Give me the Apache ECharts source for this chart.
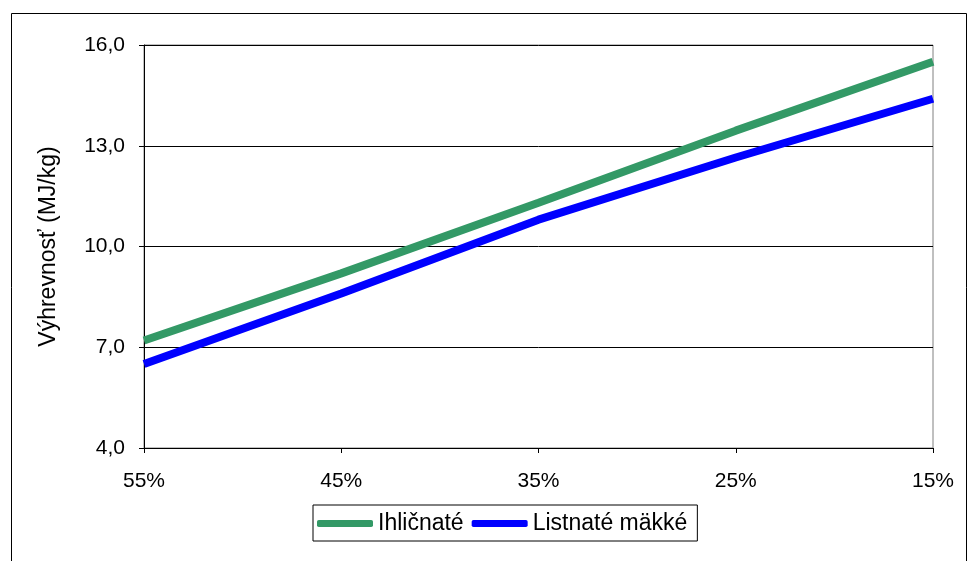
<!DOCTYPE html>
<html>
<head>
<meta charset="utf-8">
<script src="https://cdn.jsdelivr.net/npm/echarts@6/dist/echarts.min.js"></script>
<style>
  html, body { margin: 0; padding: 0; background: #ffffff; }
  #chart { width: 969px; height: 561px; }
</style>
</head>
<body>
<div id="chart"></div>
<script>
// Moisture content (category axis, descending)
const moisture = ['55%', '45%', '35%', '25%', '15%'];
// Calorific value in MJ/kg
const conifers = [7.2, 9.2, 11.3, 13.45, 15.5];
const softDeciduous = [6.5, 8.6, 10.8, 12.65, 14.4];
// Y-axis range
const yMin = 4, yMax = 16, yStep = 3;

const font = '"Liberation Sans", Arial, sans-serif';
const chart = echarts.init(document.getElementById('chart'), null, { renderer: 'canvas' });

chart.setOption({
  backgroundColor: '#ffffff',
  animation: false,
  graphic: [{
    type: 'rect',
    shape: { x: 11.5, y: 13.5, width: 955, height: 560 },
    style: { fill: 'none', stroke: '#000000', lineWidth: 1 },
    silent: true,
    z: 0
  }],
  grid: {
    left: 144, right: 36, top: 45, bottom: 113,
    show: true, borderColor: '#808080', borderWidth: 1
  },
  legend: {
    left: 313, top: 505,
    itemWidth: 56, itemHeight: 7,
    itemGap: 8,
    padding: [7, 10, 6, 4],
    borderColor: '#000000', borderWidth: 1,
    icon: 'roundRect',
    textStyle: { fontFamily: font, fontSize: 23, color: '#000000' },
    data: ['Ihličnaté', 'Listnaté mäkké']
  },
  xAxis: {
    type: 'category',
    data: moisture,
    boundaryGap: false,
    axisLine: { lineStyle: { color: '#000000', width: 1 } },
    axisTick: { show: true, length: 5, lineStyle: { color: '#000000' } },
    axisLabel: { fontFamily: font, fontSize: 21, color: '#000000', margin: 23 },
    splitLine: { show: false }
  },
  yAxis: {
    type: 'value',
    min: yMin, max: yMax, interval: yStep,
    name: 'Výhrevnosť (MJ/kg)',
    nameLocation: 'middle',
    nameGap: 84,
    nameTextStyle: { fontFamily: font, fontSize: 23, color: '#000000' },
    axisLine: { show: true, lineStyle: { color: '#000000', width: 1 } },
    axisTick: { show: true, length: 5, lineStyle: { color: '#000000' } },
    axisLabel: {
      fontFamily: font, fontSize: 21, color: '#000000', margin: 19,
      formatter: v => v.toFixed(1).replace('.', ',')
    },
    splitLine: { show: true, lineStyle: { color: '#000000', width: 1 } }
  },
  series: [
    {
      name: 'Ihličnaté', type: 'line', data: conifers,
      symbol: 'none', color: '#339966',
      lineStyle: { width: 8, color: '#339966', cap: 'butt' }
    },
    {
      name: 'Listnaté mäkké', type: 'line', data: softDeciduous,
      symbol: 'none', color: '#0000ff',
      lineStyle: { width: 8, color: '#0000ff', cap: 'butt' }
    }
  ]
});
</script>
</body>
</html>
